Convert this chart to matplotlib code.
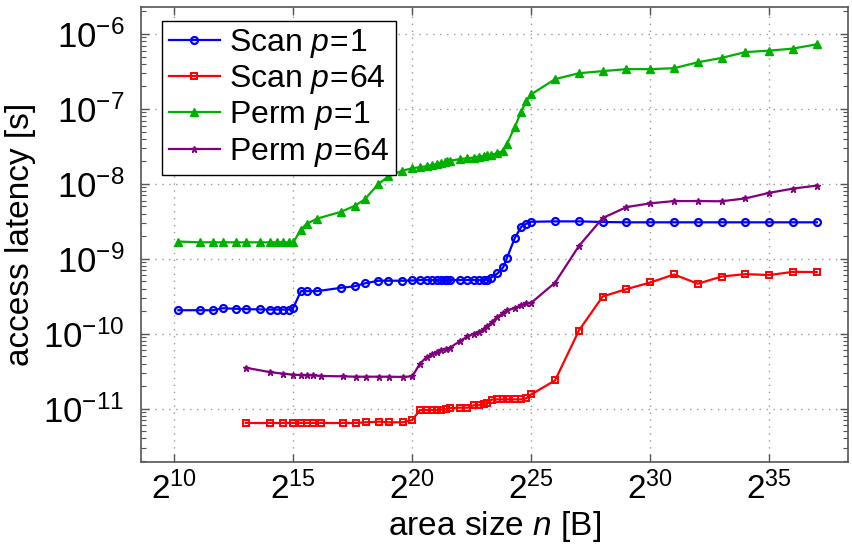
import numpy as np
import matplotlib
matplotlib.use("Agg")
import matplotlib.pyplot as plt
from matplotlib.ticker import FixedLocator, FuncFormatter, LogLocator, NullFormatter, NullLocator

plt.rcParams['font.family'] = ['Liberation Sans', 'DejaVu Sans']
plt.rcParams['mathtext.fontset'] = 'custom'
plt.rcParams['mathtext.rm'] = 'Liberation Sans'
plt.rcParams['mathtext.it'] = 'Liberation Sans:italic'
plt.rcParams['mathtext.bf'] = 'Liberation Sans:bold'

# area sizes as log2(bytes)
x_p1 = [10.17, 11.08, 11.64, 12.03, 12.6, 13.0, 13.6, 14.0, 14.32, 14.58, 14.81, 15.0,
        15.32, 15.58, 16.0, 17.0, 17.58, 18.0, 18.58, 19.0, 19.58, 20.0,
        20.32, 20.6, 20.84, 21.05, 21.22, 21.36, 21.47, 21.58, 22.0, 22.32, 22.58, 22.8,
        23.0, 23.16, 23.3, 23.58, 23.82, 23.98, 24.31, 24.58, 24.8, 25.0,
        26, 27, 28, 29, 30, 31, 32, 33, 34, 35, 36, 37]
x_p64 = [13.0, 14.0, 14.58, 15.0, 15.32, 15.58, 15.81, 16.17, 17.07, 17.64, 18.04, 18.6, 19.02, 19.6, 20.0,
         20.32, 20.6, 20.81, 21.02, 21.22, 21.4, 21.58, 22.0, 22.32, 22.58, 22.8,
         23.0, 23.16, 23.34, 23.58, 23.8, 24.0, 24.32, 24.58, 24.8, 25.0,
         26, 27, 28, 29, 30, 31, 32, 33, 34, 35, 36, 37]

scan_p1 = [2.06e-10, 2.06e-10, 2.06e-10, 2.19e-10, 2.15e-10, 2.13e-10, 2.11e-10, 2.1e-10, 2.1e-10, 2.1e-10, 2.1e-10, 2.22e-10,
           3.7e-10, 3.7e-10, 3.7e-10, 4.1e-10, 4.3e-10, 4.7e-10, 5.1e-10, 5.1e-10, 5.1e-10, 5.15e-10,
           5.2e-10, 5.2e-10, 5.2e-10, 5.2e-10, 5.2e-10, 5.2e-10, 5.2e-10, 5.2e-10, 5.2e-10, 5.2e-10, 5.2e-10, 5.2e-10,
           5.2e-10, 5.25e-10, 5.57e-10, 6.37e-10, 7.7e-10, 1.03e-9, 1.9e-9, 2.67e-9, 2.96e-9, 3.12e-9,
           3.16e-9, 3.16e-9, 3.1e-9, 3.07e-9, 3.07e-9, 3.07e-9, 3.07e-9, 3.07e-9, 3.07e-9, 3.07e-9, 3.07e-9, 3.07e-9]
perm_p1 = [1.7e-9, 1.66e-9, 1.66e-9, 1.66e-9, 1.66e-9, 1.66e-9, 1.66e-9, 1.66e-9, 1.66e-9, 1.66e-9, 1.66e-9, 1.66e-9,
           2.46e-9, 2.96e-9, 3.44e-9, 4.23e-9, 5.1e-9, 6.2e-9, 1.0e-8, 1.26e-8, 1.5e-8, 1.62e-8,
           1.67e-8, 1.72e-8, 1.78e-8, 1.85e-8, 1.9e-8, 1.95e-8, 2.0e-8, 2.04e-8, 2.14e-8, 2.2e-8, 2.24e-8, 2.31e-8,
           2.36e-8, 2.4e-8, 2.45e-8, 2.57e-8, 2.78e-8, 3.41e-8, 5.8e-8, 9.2e-8, 1.29e-7, 1.57e-7,
           2.5e-7, 3.0e-7, 3.2e-7, 3.4e-7, 3.4e-7, 3.5e-7, 4.2e-7, 4.8e-7, 5.75e-7, 6.0e-7, 6.4e-7, 7.3e-7]
scan_p64 = [6.44e-12, 6.44e-12, 6.44e-12, 6.44e-12, 6.44e-12, 6.44e-12, 6.44e-12, 6.44e-12, 6.44e-12, 6.44e-12,
            6.58e-12, 6.7e-12, 6.58e-12, 6.58e-12, 7.06e-12,
            9.6e-12, 9.6e-12, 9.6e-12, 9.6e-12, 9.7e-12, 9.8e-12, 1.02e-11, 1.03e-11, 1.03e-11, 1.11e-11, 1.11e-11,
            1.14e-11, 1.2e-11, 1.32e-11, 1.33e-11, 1.33e-11, 1.33e-11, 1.33e-11, 1.33e-11, 1.38e-11, 1.55e-11,
            2.38e-11, 1.1e-10, 3.14e-10, 3.94e-10, 4.83e-10, 6.18e-10, 4.65e-10, 5.8e-10, 6.25e-10, 6.07e-10, 6.7e-10, 6.65e-10]
perm_p64 = [3.52e-11, 3.08e-11, 2.93e-11, 2.84e-11, 2.81e-11, 2.78e-11, 2.78e-11, 2.73e-11, 2.7e-11, 2.67e-11,
            2.67e-11, 2.67e-11, 2.67e-11, 2.65e-11, 2.7e-11,
            3.98e-11, 4.88e-11, 5.3e-11, 5.7e-11, 6.0e-11, 6.18e-11, 6.5e-11, 7.98e-11, 9.2e-11, 1.0e-10, 1.07e-10,
            1.14e-10, 1.26e-10, 1.43e-10, 1.69e-10, 1.87e-10, 2.05e-10, 2.22e-10, 2.41e-10, 2.54e-10, 2.59e-10,
            4.8e-10, 1.48e-9, 3.5e-9, 4.9e-9, 5.5e-9, 5.9e-9, 5.9e-9, 5.86e-9, 6.4e-9, 7.6e-9, 8.65e-9, 9.5e-9]

fig = plt.figure(figsize=(8.52, 5.44), dpi=100)
ax = fig.add_axes([0.1655, 0.151, 0.8295, 0.836])

n1 = 2.0 ** np.array(x_p1)
n64 = 2.0 ** np.array(x_p64)

ax.plot(n1, scan_p1, color='blue', lw=1.6, marker='o', ms=5, mfc='none', mew=1.6, label='Scan $p\\!=\\!1$')
ax.plot(n64, scan_p64, color='red', lw=1.6, marker='s', ms=4.5, mfc='none', mew=1.4, label='Scan $p\\!=\\!64$')
ax.plot(n1, perm_p1, color='#00b000', lw=1.6, marker='^', ms=5.5, label='Perm $p\\!=\\!1$')
ax.plot(n64, perm_p64, color='purple', lw=1.6, marker='*', ms=5, label='Perm $p\\!=\\!64$')

ax.set_xscale('log', base=2)
ax.set_yscale('log')
ax.set_xlim(2 ** 8.6, 2 ** 38.3)
ax.set_ylim(10 ** -11.71, 10 ** -5.64)

ax.xaxis.set_major_locator(FixedLocator([2.0 ** k for k in range(10, 36, 5)]))
ax.xaxis.set_major_formatter(FuncFormatter(lambda v, p: '$2^{%d}$' % round(np.log2(v))))
ax.xaxis.set_minor_locator(NullLocator())
ax.yaxis.set_major_locator(FixedLocator([10.0 ** k for k in range(-11, -5)]))
ax.yaxis.set_major_formatter(FuncFormatter(lambda v, p: '$10^{%d}$' % round(np.log10(v))))
ax.yaxis.set_minor_locator(LogLocator(base=10, subs=np.arange(2, 10), numticks=20))
ax.yaxis.set_minor_formatter(NullFormatter())

ax.tick_params(which='both', direction='in', top=True, right=True, color='#555555')
ax.tick_params(which='major', length=6, width=1)
ax.tick_params(which='minor', length=3.5, width=0.8)
ax.tick_params(axis='x', pad=7, labelsize=24)
ax.tick_params(axis='y', pad=12, labelsize=25)

ax.grid(True, which='major', linestyle=(0, (1, 4)), color='#999999', linewidth=1)
for s in ax.spines.values():
    s.set_color('#555555')
    s.set_linewidth(1.2)

ax.set_xlabel('area size $n$ [B]', fontsize=24, labelpad=2)
ax.set_ylabel('access latency [s]', fontsize=24, labelpad=5)

leg = ax.legend(loc='upper left', bbox_to_anchor=(0.03, 0.97), fontsize=23, frameon=True, fancybox=False,
                handlelength=1.6, handletextpad=0.3, labelspacing=0.1, borderpad=0.2, borderaxespad=0)
leg.get_frame().set_edgecolor('black')
leg.get_frame().set_linewidth(1)
leg.get_frame().set_alpha(1)

fig.savefig('out.png', dpi=100)
